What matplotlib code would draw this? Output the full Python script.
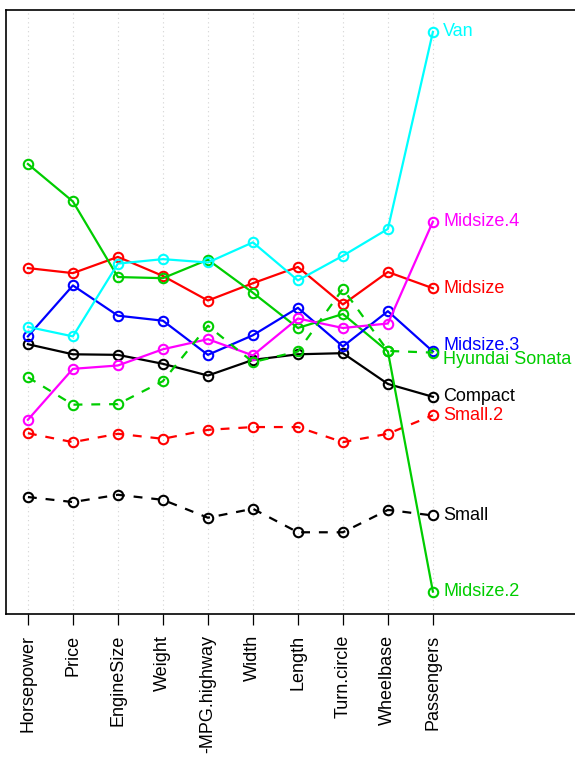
import matplotlib
matplotlib.use('Agg')
import matplotlib.pyplot as plt

plt.rcParams['font.family'] = ['Liberation Sans', 'DejaVu Sans']

variables = ['Horsepower', 'Price', 'EngineSize', 'Weight', '-MPG.highway',
             'Width', 'Length', 'Turn.circle', 'Wheelbase', 'Passengers']

# scaled profile of each car type over the variables
small = [0.169, 0.160, 0.173, 0.164, 0.132, 0.148, 0.106, 0.106, 0.146, 0.136]
small_2 = [0.283, 0.267, 0.282, 0.273, 0.289, 0.294, 0.294, 0.267, 0.282, 0.315]
compact = [0.442, 0.424, 0.423, 0.407, 0.386, 0.414, 0.424, 0.426, 0.371, 0.348]
midsize = [0.578, 0.569, 0.598, 0.564, 0.520, 0.551, 0.580, 0.513, 0.571, 0.542]
midsize_2 = [0.764, 0.697, 0.562, 0.560, 0.593, 0.534, 0.471, 0.496, 0.429, 0.000]
midsize_3 = [0.456, 0.547, 0.493, 0.484, 0.423, 0.458, 0.507, 0.438, 0.501, 0.429]
midsize_4 = [0.307, 0.398, 0.404, 0.433, 0.451, 0.422, 0.488, 0.471, 0.479, 0.661]
van = [0.473, 0.456, 0.586, 0.594, 0.588, 0.624, 0.556, 0.600, 0.648, 1.000]
sonata = [0.383, 0.334, 0.335, 0.376, 0.475, 0.410, 0.429, 0.541, 0.430, 0.427]

series = [
    ('Small', small, 'black', 'dashed', 0),
    ('Small.2', small_2, '#FF0000', 'dashed', 0),
    ('Compact', compact, 'black', 'solid', 0),
    ('Midsize', midsize, '#FF0000', 'solid', 0),
    ('Midsize.2', midsize_2, '#00CD00', 'solid', 0),
    ('Midsize.3', midsize_3, '#0000FF', 'solid', 4.5),
    ('Midsize.4', midsize_4, '#FF00FF', 'solid', 0),
    ('Van', van, '#00FFFF', 'solid', 0),
    ('Hyundai Sonata', sonata, '#00CD00', 'dashed', -5),
]

fig = plt.figure(figsize=(5.75, 7.59), dpi=100)
ax = fig.add_axes([6.3 / 575, 145 / 759, 583.2 / 575, 604.5 / 759])

xs = list(range(1, len(variables) + 1))
for x in xs:
    ax.axvline(x, color='#d3d3d3', lw=0.8, linestyle=(0, (1, 3)), zorder=0)

for name, vals, col, ls, dy in series:
    style = (0, (4, 4)) if ls == 'dashed' else '-'
    ax.plot(xs, vals, color=col, linestyle=style, lw=1.6,
            marker='o', ms=6.8, mfc='none', mec=col, mew=1.5)
    ax.annotate(name, (xs[-1], vals[-1]), xytext=(7.5, dy),
                textcoords='offset points', ha='left', va='center',
                color=col, fontsize=13)

ax.set_xlim(0.52, 13.48)
ax.set_ylim(-0.04, 1.04)
ax.set_xticks(xs)
ax.set_xticklabels(variables, rotation=90, fontsize=13)
ax.tick_params(axis='x', length=8, width=0.9, pad=7)
ax.set_yticks([])
for sp in ax.spines.values():
    sp.set_linewidth(1.2)

fig.savefig('out.png', dpi=100)
